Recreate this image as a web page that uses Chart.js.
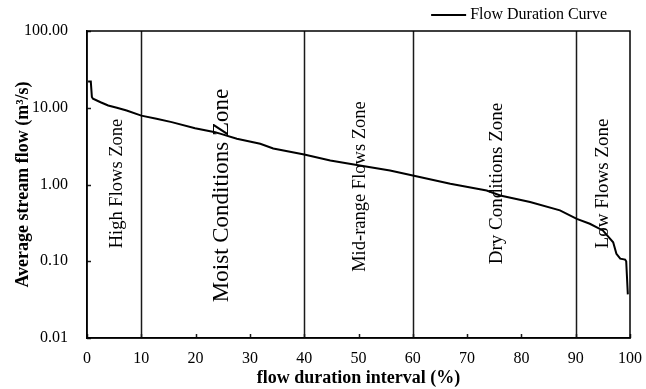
<!DOCTYPE html>
<html>
<head>
<meta charset="utf-8">
<script src="https://cdn.jsdelivr.net/npm/chart.js@4.4.1/dist/chart.umd.min.js"></script>
<style>
  html, body { margin: 0; padding: 0; background: #fff; }
</style>
</head>
<body>
<canvas id="myChart" width="646" height="389"></canvas>
<script>
// flow duration curve
const durationPct = [0.2, 0.7, 0.9, 1.1, 2.5, 3.9, 5.5, 7.3, 10.0, 12.8, 15.6, 19.9, 23.6, 24.5, 27.6,
  31.9, 34.3, 40.0, 44.8, 49.7, 55.8, 60.0, 66.9, 73.6, 76.1, 81.6, 87.1, 90.2, 92.6, 95.0,
  96.9, 97.5, 98.2, 99.1, 99.3, 99.6];
const flow = [22.0, 22.0, 13.8, 13.1, 11.8, 10.7, 10.0, 9.2, 7.9, 7.2, 6.5, 5.4, 4.8, 4.6, 3.95,
  3.4, 2.95, 2.46, 2.05, 1.80, 1.52, 1.31, 1.02, 0.835, 0.72, 0.59, 0.46, 0.357, 0.308, 0.252,
  0.177, 0.125, 0.108, 0.105, 0.100, 0.037];

const yTicks = [0.01, 0.1, 1, 10, 100];
const zoneBounds = [10, 40, 60, 90];
const zoneNames = ["High Flows Zone", "Moist Conditions Zone", "Mid-range Flows Zone", "Dry Conditions Zone", "Low Flows Zone"];
const zoneCentres = [5.5, 24.9, 50.3, 75.5, 95.0];

const serif = "'Liberation Serif', 'Times New Roman', serif";

const zonesPlugin = {
  id: "zones",
  beforeDatasetsDraw(chart, args, opts) {
    const { ctx, chartArea: a, scales: { x, y } } = chart;
    ctx.save();
    ctx.strokeStyle = "#1a1a1a";
    ctx.lineWidth = 1.5;

    // zone dividers
    zoneBounds.forEach(v => {
      const px = Math.round(x.getPixelForValue(v)) + 0.5;
      ctx.beginPath();
      ctx.moveTo(px, a.top);
      ctx.lineTo(px, a.bottom);
      ctx.stroke();
    });

    // tick marks point into the plot
    ctx.beginPath();
    x.ticks.forEach(t => {
      const px = Math.round(x.getPixelForValue(t.value)) + 0.5;
      ctx.moveTo(px, a.bottom);
      ctx.lineTo(px, a.bottom - 4);
    });
    y.ticks.forEach(t => {
      const py = Math.round(y.getPixelForValue(t.value)) + 0.5;
      ctx.moveTo(a.left, py);
      ctx.lineTo(a.left + 4, py);
    });
    ctx.stroke();

    // frame
    ctx.strokeStyle = "#000";
    ctx.strokeRect(a.left, a.top, a.right - a.left, a.bottom - a.top);

    // zone labels, written bottom to top
    ctx.fillStyle = "#000";
    ctx.textAlign = "center";
    ctx.textBaseline = "middle";
    zoneNames.forEach((name, i) => {
      const px = x.getPixelForValue(zoneCentres[i]);
      const py = y.getPixelForValue(opts.mid[i]);
      ctx.save();
      ctx.translate(px, py);
      ctx.rotate(-Math.PI / 2);
      ctx.font = opts.sizes[i] + "px " + serif;
      ctx.fillText(name, 0, 0);
      ctx.restore();
    });
    ctx.restore();
  },
  afterDraw(chart) {
    // legend entry above the top right of the frame
    const { ctx, chartArea: a } = chart;
    const ds = chart.data.datasets[0];
    ctx.save();
    ctx.font = "16px " + serif;
    ctx.fillStyle = "#000";
    ctx.textBaseline = "middle";
    const w = ctx.measureText(ds.label).width;
    const tx = a.right - 23 - w;
    const ty = 15;
    ctx.fillText(ds.label, tx, ty);
    ctx.strokeStyle = ds.borderColor;
    ctx.lineWidth = ds.borderWidth;
    ctx.beginPath();
    ctx.moveTo(tx - 39, ty);
    ctx.lineTo(tx - 4, ty);
    ctx.stroke();
    ctx.restore();
  }
};

const ctx = document.getElementById("myChart").getContext("2d");
const myChart = new Chart(ctx, {
  type: "line",
  plugins: [zonesPlugin],
  data: {
    datasets: [
      {
        label: "Flow Duration Curve",
        data: durationPct.map((p, i) => ({ x: p, y: flow[i] })),
        borderColor: "#000",
        backgroundColor: "#000",
        borderWidth: 2,
        pointRadius: 0,
        tension: 0,
        fill: false
      }
    ]
  },
  options: {
    responsive: false,
    animation: false,
    layout: { padding: { left: 0, right: 16, top: 31, bottom: 0 } },
    plugins: {
      legend: { display: false },
      tooltip: { enabled: false },
      zones: {
        mid: [1.03, 0.72, 0.94, 1.03, 1.03],
        sizes: [18.5, 23, 18.5, 19, 19]
      }
    },
    scales: {
      x: {
        type: "linear",
        min: 0,
        max: 100,
        grid: { display: false, drawTicks: false, tickLength: 0 },
        border: { display: true, color: "#000", width: 1.5 },
        ticks: { stepSize: 10, color: "#000", padding: 11, maxRotation: 0, font: { family: serif, size: 16 } },
        title: {
          display: true,
          text: "flow duration interval (%)",
          color: "#000",
          font: { family: serif, size: 18, weight: "bold" },
          padding: { top: 0, bottom: 0 }
        },
        afterFit: s => {
          s.height = 51;
          s.paddingLeft = 0;
          s.paddingRight = 0;
        }
      },
      y: {
        type: "logarithmic",
        min: 0.01,
        max: 100,
        grid: { display: false, drawTicks: false, tickLength: 0 },
        border: { display: true, color: "#000", width: 1.5 },
        afterBuildTicks: s => { s.ticks = yTicks.map(v => ({ value: v })); },
        ticks: {
          color: "#000",
          padding: 19,
          font: { family: serif, size: 16 },
          callback: v => Number(v).toFixed(2)
        },
        title: {
          display: true,
          text: "Average stream flow (m³/s)",
          color: "#000",
          font: { family: serif, size: 18, weight: "bold" },
          padding: { top: 13, bottom: 0 }
        },
        afterFit: s => { s.width = 87; }
      }
    }
  }
});
</script>
</body>
</html>
